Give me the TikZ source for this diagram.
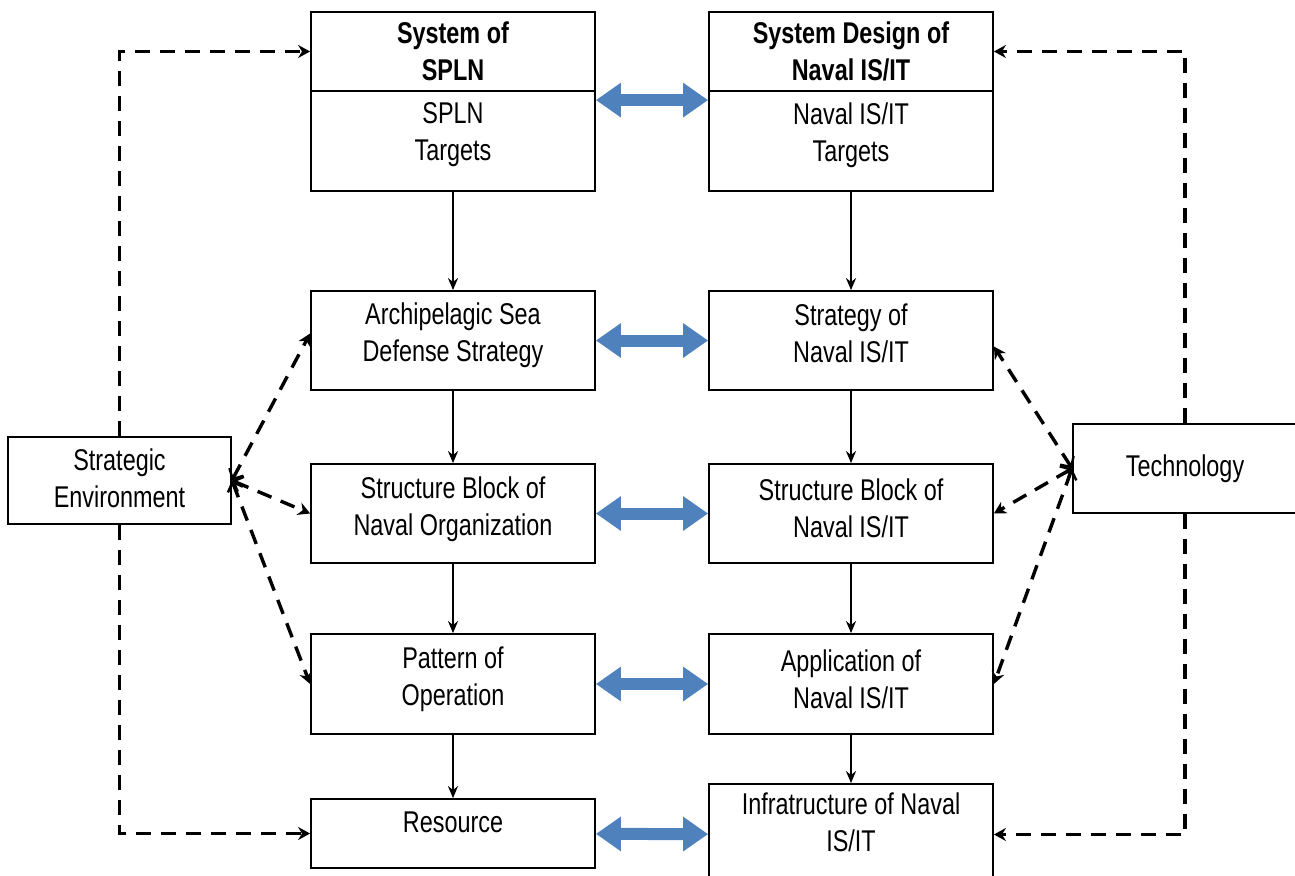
\documentclass[tikz,border=0pt]{standalone}
\usepackage{fontspec}
\setmainfont{Liberation Sans}[FakeStretch=0.78]
\usetikzlibrary{arrows.meta,calc}
\definecolor{linkblue}{RGB}{79,129,189}
\begin{document}
\begin{tikzpicture}[x=1pt,y=-1pt,
  box/.style={draw, line width=1.8pt, minimum width=284pt, inner sep=0pt},
  sidebox/.style={box, minimum width=223pt},
  txt/.style={inner sep=0pt, align=center, font=\fontsize{30}{37}\selectfont},
  flow/.style={draw, line width=2pt, -{Stealth[length=12pt,width=10pt]}},
  dashline/.style={draw, line width=3.4pt, dash pattern=on 15pt off 10pt,
    -{Stealth[length=12pt,width=13pt]}},
  twoway/.style={draw, line width=3.4pt, dash pattern=on 15pt off 10pt,
    {Straight Barb[length=8pt,width=16pt,line width=2.4pt]}-{Stealth[length=12pt,width=13pt]}},
  link/.style={draw=linkblue, line width=12pt,
    {Triangle[length=25pt,width=33pt]}-{Triangle[length=25pt,width=33pt]}}
]
\clip (0,0) rectangle (1295,875);
\fill[white] (0,0) rectangle (1295,875);

% left column boxes
\node[box, minimum height=79pt]  (sysL)    at (453,51.5)  {};
\node[box, minimum height=100pt] (tgtL)    at (453,141)   {};
\node[box, minimum height=99pt]  (archL)   at (453,340.5) {};
\node[box, minimum height=99pt]  (structL) at (453,513.5) {};
\node[box, minimum height=100pt] (patL)    at (453,684)   {};
\node[box, minimum height=69pt]  (resL)    at (453,833.5) {};

% right column boxes
\node[box, minimum height=79pt]  (sysR)    at (851,51.5)  {};
\node[box, minimum height=100pt] (tgtR)    at (851,141)   {};
\node[box, minimum height=99pt]  (stratR)  at (851,340.5) {};
\node[box, minimum height=99pt]  (structR) at (851,513.5) {};
\node[box, minimum height=100pt] (appR)    at (851,684)   {};
\node[box, minimum height=101pt] (infraR)  at (851,834.5) {};

% side boxes
\node[sidebox, minimum height=87pt] (env) at (119.5,480.5) {};
\node[sidebox, minimum width=224pt, minimum height=89pt] (tech) at (1185,468.5) {};

% box texts
\node[txt] (sysLtxt)    at ($(sysL)+(0,0)$)     {\textbf{System of}\\\textbf{SPLN}};
\node[txt] (tgtLtxt)    at ($(tgtL)+(0,-6)$)    {SPLN\\Targets};
\node[txt] (archLtxt)   at ($(archL)+(0,-5)$)   {Archipelagic Sea\\Defense Strategy};
\node[txt] (structLtxt) at ($(structL)+(0,-4)$) {Structure Block of\\Naval Organization};
\node[txt] (patLtxt)    at ($(patL)+(0,-5)$)    {Pattern of\\Operation};
\node[txt] (resLtxt)    at ($(resL)+(0,-11)$)   {Resource};
\node[txt] (sysRtxt)    at ($(sysR)+(0,0)$)     {\textbf{System Design of}\\\textbf{Naval IS/IT}};
\node[txt] (tgtRtxt)    at ($(tgtR)+(0,-6)$)    {Naval IS/IT\\Targets};
\node[txt] (stratRtxt)  at ($(stratR)+(0,-7)$)  {Strategy of\\Naval IS/IT};
\node[txt] (structRtxt) at ($(structR)+(0,-5)$) {Structure Block of\\Naval IS/IT};
\node[txt] (appRtxt)    at ($(appR)+(0,-5)$)    {Application of\\Naval IS/IT};
\node[txt] (infraRtxt)  at ($(infraR)+(0,-12)$) {Infratructure of Naval\\IS/IT};
\node[txt] (envtxt)     at ($(env)+(0,-2)$)     {Strategic\\Environment};
\node[txt] (techtxt)    at ($(tech)+(0,0)$)     {Technology};

% vertical flow
\draw[flow] (tgtL) -- (archL);
\draw[flow] (archL) -- (structL);
\draw[flow] (structL) -- (patL);
\draw[flow] (patL) -- (resL);
\draw[flow] (tgtR) -- (stratR);
\draw[flow] (stratR) -- (structR);
\draw[flow] (structR) -- (appR);
\draw[flow] (appR) -- (infraR);

% blue two-way links
\draw[link] ($(tgtL.north east)+(0,10)$) -- ($(tgtR.north west)+(0,10)$);
\draw[link] (archL) -- (stratR);
\draw[link] (structL) -- (structR);
\draw[link] (patL) -- (appR);
\draw[link] (resL) -- (infraR);

% strategic environment influences
\draw[dashline] (env.north) |- (sysL.west);
\draw[dashline] (env.south) |- (resL.west);
\draw[twoway] (env.east) -- ($(archL.west)+(0,-7)$);
\draw[twoway] (env.east) -- (structL.west);
\draw[twoway] (env.east) -- (patL.west);

% technology influences
\draw[dashline] (tech.north) |- (sysR.east);
\draw[dashline] (tech.south) |- (infraR.east);
\draw[twoway] (tech.west) -- ($(stratR.east)+(0,6)$);
\draw[twoway] (tech.west) -- (structR.east);
\draw[twoway] (tech.west) -- (appR.east);
\end{tikzpicture}
\end{document}
